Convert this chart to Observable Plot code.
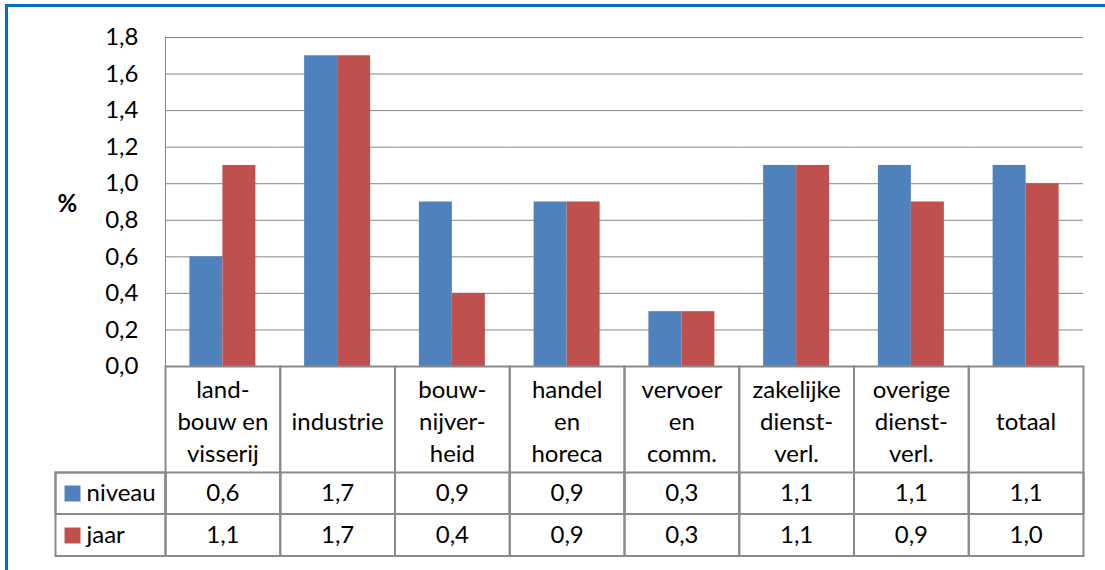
<!DOCTYPE html>
<html><head><meta charset="utf-8">
<script src="https://cdn.jsdelivr.net/npm/d3@7"></script>
<script src="https://cdn.jsdelivr.net/npm/@observablehq/plot@0.6"></script>
<style>
html,body{margin:0;padding:0;background:#fff;overflow:hidden;}
#wrap{position:relative;width:1105px;height:570px;overflow:hidden;background:#fff;}
#frame{position:absolute;left:5px;top:4px;width:2000px;height:2000px;border-top:3px solid #0070C0;border-left:3px solid #0070C0;pointer-events:none;}
</style></head><body>
<div id="wrap"><div id="chart"></div><div id="frame"></div></div>
<script>
const categories = ["landbouw en visserij", "industrie", "bouwnijverheid", "handel en horeca", "vervoer en comm.", "zakelijke dienstverl.", "overige dienstverl.", "totaal"];
const categoryLabels = ["land-\nbouw en\nvisserij", "industrie", "bouw-\nnijver-\nheid", "handel\nen\nhoreca", "vervoer\nen\ncomm.", "zakelijke\ndienst-\nverl.", "overige\ndienst-\nverl.", "totaal"];
const series = ["niveau", "jaar"];
const niveau = [0.6, 1.7, 0.9, 0.9, 0.3, 1.1, 1.1, 1.1];
const jaar = [1.1, 1.7, 0.4, 0.9, 0.3, 1.1, 0.9, 1.0];
const yTicks = [0, 0.2, 0.4, 0.6, 0.8, 1.0, 1.2, 1.4, 1.6, 1.8];
const colors = ["#4F81BD", "#C0504D"];

const fmt = v => v.toFixed(1).replace(".", ",");
const rows = categories.map((c, i) => ({cat: c, label: categoryLabels[i], niveau: niveau[i], jaar: jaar[i]}));
const bars = categories.flatMap((c, i) => [
  {cat: c, series: series[0], value: niveau[i]},
  {cat: c, series: series[1], value: jaar[i]}
]);

const W = 1105, H = 570, mL = 165, mR = 22, mT = 37, mB = 204;
const fw = W - mL - mR, fh = H - mT - mB;
const lineC = "#8a8a8a";
const FS = 24;

const chart = Plot.plot({
  width: W, height: H,
  marginLeft: mL, marginRight: mR, marginTop: mT, marginBottom: mB,
  style: {fontFamily: "Lato, 'Noto Sans', sans-serif", fontSize: FS + "px", color: "#000", background: "#fff"},
  fx: {domain: categories, padding: 0, round: false, axis: null, label: null},
  x: {domain: series, paddingInner: 0, paddingOuter: 0.739, round: false, axis: null, label: null},
  y: {domain: [0, 1.8], axis: null, label: null},
  color: {domain: series, range: colors},
  marks: [
    Plot.gridY(yTicks, {stroke: "#868686", strokeOpacity: 1, strokeWidth: 1}),
    Plot.barY(bars, {fx: "cat", x: "series", y: "value", fill: "series"}),
    Plot.axisY({ticks: yTicks, tickFormat: fmt, tickSize: 0, tickPadding: 27, fontSize: FS, label: null}),
    Plot.frame({facet: "super", anchor: "left", stroke: "#868686", strokeWidth: 1}),
    // table cells per category column
    Plot.frame({stroke: lineC, strokeWidth: 2, insetTop: fh, insetBottom: -189.5}),
    Plot.frame({stroke: lineC, strokeWidth: 2, insetTop: fh + 106, insetBottom: -147.5}),
    // legend column
    Plot.frame({facet: "super", stroke: lineC, strokeWidth: 2, insetLeft: -110, insetRight: fw, insetTop: fh + 106, insetBottom: -189.5}),
    Plot.frame({facet: "super", stroke: lineC, strokeWidth: 2, insetLeft: -110, insetRight: fw, insetTop: fh + 106, insetBottom: -147.5}),
    Plot.text(rows, {fx: "cat", text: "label", frameAnchor: "bottom", dy: 53, lineAnchor: "middle", lineHeight: 32 / FS, fontSize: FS, fill: "#000"}),
    Plot.text(rows, {fx: "cat", text: d => fmt(d.niveau), frameAnchor: "bottom", dy: 127, lineAnchor: "middle", fontSize: FS, fill: "#000"}),
    Plot.text(rows, {fx: "cat", text: d => fmt(d.jaar), frameAnchor: "bottom", dy: 169, lineAnchor: "middle", fontSize: FS, fill: "#000"}),
    Plot.dot([series[0]], {facet: "super", frameAnchor: "bottom-left", dx: -93, dy: 127, symbol: "square", r: 9, fill: d => d, stroke: null}),
    Plot.dot([series[1]], {facet: "super", frameAnchor: "bottom-left", dx: -93, dy: 169, symbol: "square", r: 9, fill: d => d, stroke: null}),
    Plot.text([series[0]], {facet: "super", frameAnchor: "bottom-left", dx: -79, dy: 127, text: d => d, textAnchor: "start", lineAnchor: "middle", fontSize: FS, fill: "#000"}),
    Plot.text([series[1]], {facet: "super", frameAnchor: "bottom-left", dx: -79, dy: 169, text: d => d, textAnchor: "start", lineAnchor: "middle", fontSize: FS, fill: "#000"}),
    Plot.text(["%"], {facet: "super", frameAnchor: "left", dx: -108, dy: 2, text: d => d, fontWeight: "bold", fontSize: FS, fill: "#000"})
  ]
});
document.getElementById("chart").appendChild(chart);
</script>
</body></html>
